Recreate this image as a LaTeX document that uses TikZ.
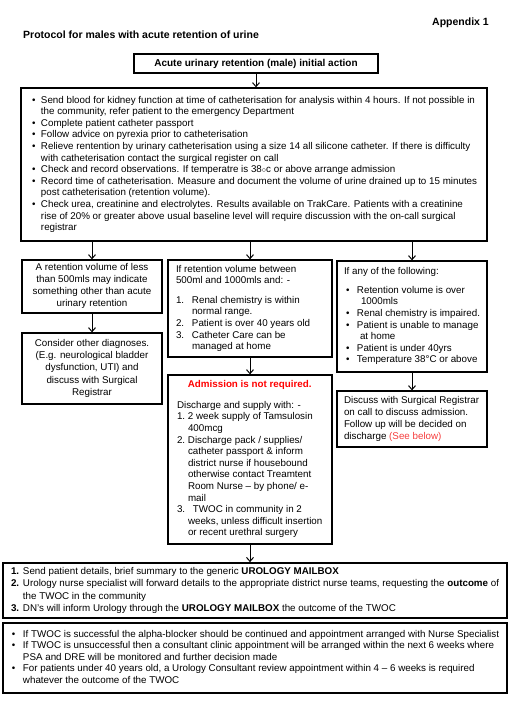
\documentclass[tikz,border=0pt]{standalone}
\usepackage{fontspec}
\setmainfont{Liberation Sans}
\usetikzlibrary{arrows.meta,positioning}

\definecolor{alertred}{RGB}{255,0,0}
\definecolor{seered}{RGB}{245,60,60}
\newcommand{\bodysize}{\fontsize{9.8}{11.6}\selectfont}
\newcommand{\titlesize}{\fontsize{10.5}{12}\selectfont}
% list helpers: bullet / number in a fixed slot, continuation indent
\newcommand{\bulitem}[1][9pt]{\makebox[#1][l]{\textbullet}}
\newcommand{\numitem}[2][16pt]{\makebox[#1][l]{#2}}
\newcommand{\bulcont}[1][9pt]{\hspace*{#1}}
% box text: fixed width, left padding, one row per printed line
\newcommand{\boxlines}[3]{\makebox[#1][l]{\hspace*{#2}\begin{tabular}{@{}l@{}}#3\end{tabular}}}
\newcommand{\boxcentre}[1]{\begin{tabular}{@{}c@{}}#1\end{tabular}}

\begin{document}
\begin{tikzpicture}[x=1pt, y=-1pt,
    % --- Box styles ---
    flowbox/.style={draw, line width=1.3pt, inner sep=0pt, font=\bodysize},
    heavybox/.style={flowbox, line width=1.7pt},
    % --- Connector style ---
    leads to/.style={-{Straight Barb[length=4pt,width=7pt]}, line width=1pt},
]
\useasboundingbox (0,0) rectangle (521,713);

% ============================================================
% Page heading
% ============================================================
\node[font=\titlesize\bfseries, anchor=east, inner sep=0pt] (appx) at (489,23) {Appendix 1};
\node[font=\titlesize\bfseries, anchor=west, inner sep=0pt] (title) at (23,35)
  {Protocol for males with acute retention of urine};

% ============================================================
% Initial action
% ============================================================
\node[flowbox, font=\fontsize{10}{12}\selectfont\bfseries, minimum width=244pt, minimum height=19pt]
  (head) at (256,63.5) {Acute urinary retention (male) initial action};

\node[flowbox, minimum width=466pt, minimum height=153pt] (initial) at (254,164.5) {\boxlines{466pt}{11pt}{%
  \bulitem Send blood for kidney function at time of catheterisation for analysis within 4 hours. If not possible in\\
  \bulcont the community, refer patient to the emergency Department\\
  \bulitem Complete patient catheter passport\\
  \bulitem Follow advice on pyrexia prior to catheterisation\\
  \bulitem Relieve rentention by urinary catheterisation using a size 14 all silicone catheter. If there is difficulty\\
  \bulcont with catheterisation contact the surgical register on call\\
  \bulitem Check and record observations. If temperatre is 38{\footnotesize$\circ$}c or above arrange admission\\
  \bulitem Record time of catheterisation. Measure and document the volume of urine drained up to 15 minutes\\
  \bulcont post catheterisation (retention volume).\\
  \bulitem Check urea, creatinine and electrolytes. Results available on TrakCare. Patients with a creatinine\\
  \bulcont rise of 20\% or greater above usual baseline level will require discussion with the on-call surgical\\
  \bulcont registrar}};

% ============================================================
% Left column: low retention volume
% ============================================================
\node[flowbox, font=\fontsize{9.8}{12}\selectfont, minimum width=140pt, minimum height=53pt]
  (lowvol) at (92,286.5) {\boxcentre{A retention volume of less\\ than 500mls may indicate\\
  something other than acute\\ urinary retention}};
\node[flowbox, font=\fontsize{9.8}{12.2}\selectfont, minimum width=140pt, minimum height=71pt]
  (otherdx) at (92,368.5) {\boxcentre{Consider other diagnoses.\\ (E.g. neurological bladder\\
  dysfunction, UTI) and\\ discuss with Surgical\\ Registrar}};

% ============================================================
% Middle column: 500--1000 mls
% ============================================================
\node[flowbox, minimum width=164pt, minimum height=97pt] (midvol) at (250,308.5) {\boxlines{164pt}{8pt}{%
  If retention volume between\\
  500ml and 1000mls and: -\\[8pt]
  \numitem{1.}Renal chemistry is within\\
  \bulcont[16pt]normal range.\\
  \numitem{2.}Patient is over 40 years old\\
  \numitem{3.}Catheter Care can be\\
  \bulcont[16pt]managed at home}};

\node[flowbox, minimum width=164pt, minimum height=169pt] (discharge) at (250,459.5) {\boxlines{164pt}{9pt}{%
  \multicolumn{1}{@{}c@{}}{\textcolor{alertred}{\bfseries Admission is not required.}}\\[9pt]
  Discharge and supply with: -\\
  \numitem[11pt]{1.}2 week supply of Tamsulosin\\
  \bulcont[11pt]400mcg\\
  \numitem[11pt]{2.}Discharge pack / supplies/\\
  \bulcont[11pt]catheter passport \& inform\\
  \bulcont[11pt]district nurse if housebound\\
  \bulcont[11pt]otherwise contact Treamtent\\
  \bulcont[11pt]Room Nurse -- by phone/ e-\\
  \bulcont[11pt]mail\\
  \numitem[16pt]{3.}TWOC in community in 2\\
  \bulcont[11pt]weeks, unless difficult insertion\\
  \bulcont[11pt]or recent urethral surgery}};

% ============================================================
% Right column: any of the following
% ============================================================
\node[flowbox, minimum width=150pt, minimum height=111pt] (highvol) at (412,316.5) {\boxlines{150pt}{7pt}{%
  If any of the following:\\[7pt]
  \hspace*{2pt}\bulitem[11pt]Retention volume is over\\
  \hspace*{17pt}1000mls\\
  \hspace*{2pt}\bulitem[11pt]Renal chemistry is impaired.\\
  \hspace*{2pt}\bulitem[11pt]Patient is unable to manage\\
  \hspace*{16pt}at home\\
  \hspace*{2pt}\bulitem[11pt]Patient is under 40yrs\\
  \hspace*{2pt}\bulitem[11pt]Temperature 38°C or above}};

\node[flowbox, font=\fontsize{9.8}{12}\selectfont, minimum width=150pt, minimum height=56pt]
  (registrar) at (412,419) {\boxlines{150pt}{7pt}{%
  Discuss with Surgical Registrar\\
  on call to discuss admission.\\
  Follow up will be decided on\\
  discharge \textcolor{seered}{(See below)}}};

% ============================================================
% Follow-up boxes
% ============================================================
\node[heavybox, font=\fontsize{9.8}{12.3}\selectfont, minimum width=504pt, minimum height=55pt]
  (mailbox) at (255,590.5) {\boxlines{504pt}{8pt}{%
  \numitem[12pt]{\bfseries 1.}Send patient details, brief summary to the generic \textbf{UROLOGY MAILBOX}\\
  \numitem[12pt]{\bfseries 2.}Urology nurse specialist will forward details to the appropriate district nurse teams, requesting the \textbf{outcome} of\\
  \bulcont[12pt]the TWOC in the community\\
  \numitem[12pt]{\bfseries 3.}DN's will inform Urology through the \textbf{UROLOGY MAILBOX} the outcome of the TWOC}};

\node[heavybox, minimum width=504pt, minimum height=70pt] (followup) at (255,658) {\boxlines{504pt}{9pt}{%
  \bulitem[11pt]If TWOC is successful the alpha-blocker should be continued and appointment arranged with Nurse Specialist\\
  \bulitem[11pt]If TWOC is unsuccessful then a consultant clinic appointment will be arranged within the next 6 weeks where\\
  \bulcont[11pt]PSA and DRE will be monitored and further decision made\\
  \bulitem[11pt]For patients under 40 years old, a Urology Consultant review appointment within 4 -- 6 weeks is required\\
  \bulcont[11pt]whatever the outcome of the TWOC}};

% --- Connectors ---
\draw[leads to] (head.south) -- (head.south |- initial.north);
\foreach \col in {lowvol, midvol, highvol}
  \draw[leads to] (initial.south -| \col.north) -- (\col.north);
\draw[leads to] (lowvol) -- (otherdx);
\draw[leads to] (midvol) -- (discharge);
\draw[leads to] (highvol) -- (registrar);
\draw[leads to] (discharge.south) -- (discharge.south |- mailbox.north);

\end{tikzpicture}
\end{document}
